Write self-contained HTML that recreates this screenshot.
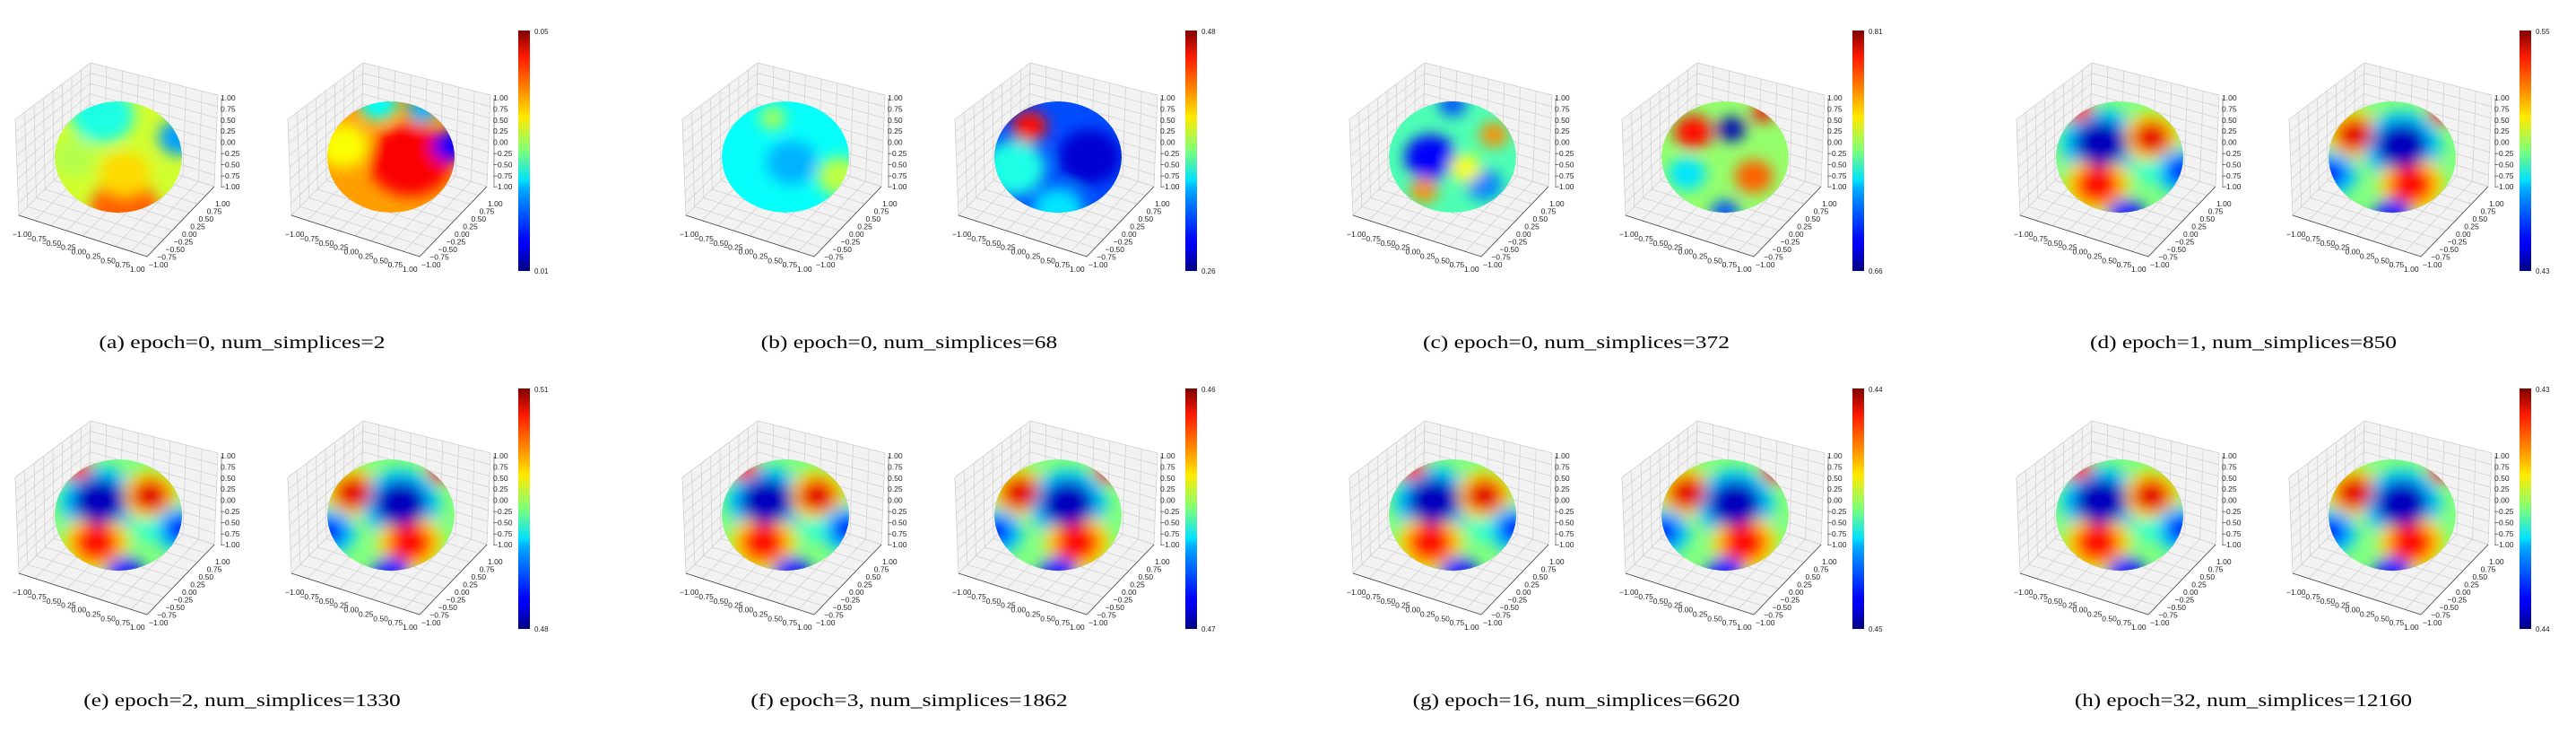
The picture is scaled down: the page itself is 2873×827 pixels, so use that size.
<!DOCTYPE html>
<html><head><meta charset="utf-8">
<style>
html,body{margin:0;padding:0;background:#fff;}
svg{display:block;}
</style></head>
<body>
<svg id="fig" width="2873" height="827" viewBox="0 0 2873 827" xmlns="http://www.w3.org/2000/svg">
<defs>
<filter id="blur" x="-50%" y="-50%" width="200%" height="200%"><feGaussianBlur stdDeviation="8"/></filter>
<linearGradient id="jet" x1="0" y1="1" x2="0" y2="0">
<stop offset="0" stop-color="#00007f"/><stop offset="0.11" stop-color="#0000ff"/>
<stop offset="0.125" stop-color="#0000ff"/><stop offset="0.34" stop-color="#00a8ff"/>
<stop offset="0.375" stop-color="#00e0ff"/><stop offset="0.5" stop-color="#7dff7a"/>
<stop offset="0.64" stop-color="#ffea00"/><stop offset="0.75" stop-color="#ff8c00"/>
<stop offset="0.89" stop-color="#ff1a00"/><stop offset="1" stop-color="#7f0000"/>
</linearGradient>
</defs>
</svg>
<script>
const captions = ["(a) epoch=0, num_simplices=2","(b) epoch=0, num_simplices=68","(c) epoch=0, num_simplices=372","(d) epoch=1, num_simplices=850","(e) epoch=2, num_simplices=1330","(f) epoch=3, num_simplices=1862","(g) epoch=16, num_simplices=6620","(h) epoch=32, num_simplices=12160"];
const cbarMax = ["0.05","0.48","0.81","0.55","0.51","0.46","0.44","0.43"];
const cbarMin = ["0.01","0.26","0.66","0.43","0.48","0.47","0.45","0.44"];
const zTicks = ["1.00","0.75","0.50","0.25","0.00","\u22120.25","\u22120.50","\u22120.75","\u22121.00"];
const xTicks = ["\u22121.00","\u22120.75","\u22120.50","\u22120.25","0.00","0.25","0.50","0.75","1.00"];
// surface field samples per sphere: [u, v, radius, normalised value]
const baseVals = [[0.58,0.72],[0.38,0.2],[0.45,0.52],[0.5,0.5],[0.5,0.5],[0.5,0.5],[0.5,0.5],[0.5,0.5]];
const convergedA = [
 [-0.3,-0.25,0.62,0.32],[0.5,-0.35,0.45,0.66],[-0.35,0.5,0.52,0.66],[0.95,0.25,0.4,0.32],
 [-0.3,-0.25,0.42,0.06],[0.5,-0.35,0.3,0.9],[-0.35,0.5,0.35,0.86],[0.98,0.25,0.25,0.15],
 [-0.65,-0.85,0.22,0.82],[0.1,1.05,0.3,0.15],[0.45,0.25,0.2,0.42]];
const convergedB = [
 [-0.6,-0.4,0.45,0.66],[0.15,-0.2,0.62,0.32],[0.3,0.5,0.52,0.66],[-0.95,0.3,0.4,0.32],
 [-0.6,-0.4,0.3,0.9],[0.15,-0.2,0.42,0.06],[0.8,-0.8,0.22,0.88],[0.3,0.5,0.35,0.86],
 [-0.98,0.3,0.25,0.15],[0,1.05,0.3,0.15]];
const fieldA = [
 [[-0.25,-0.75,0.5,0.4],[0.95,-0.35,0.32,0.28],[0.1,0.95,0.55,0.78],[0.1,0.3,0.4,0.66],[-0.7,0,0.35,0.55]],
 [[0.85,0.35,0.35,0.56],[0.1,0.1,0.4,0.3],[-0.2,-0.7,0.2,0.55]],
 [[-0.35,0,0.4,0.12],[0.65,-0.4,0.22,0.74],[-0.45,0.6,0.22,0.74],[0.5,0.5,0.28,0.25],[0,-0.95,0.22,0.2],[0.2,0.2,0.25,0.62]],
 convergedA,convergedA,convergedA,convergedA,convergedA];
const fieldB = [
 [[0.3,0.05,0.65,0.88],[0.95,-0.2,0.3,0.12],[-0.75,-0.2,0.4,0.62],[-0.2,-0.95,0.3,0.38],[0.5,-0.85,0.25,0.3]],
 [[-0.7,0.2,0.5,0.4],[-0.45,-0.55,0.28,0.86],[0.5,0,0.5,0.08],[0,0.95,0.4,0.35]],
 [[-0.5,-0.45,0.3,0.86],[0.1,-0.5,0.22,0.05],[0.6,-0.8,0.17,0.88],[0.45,0.35,0.3,0.78],[-0.6,0.3,0.3,0.35],[0,1,0.22,0.2]],
 convergedB,convergedB,convergedB,convergedB,convergedB];

function jet(t){
  t=Math.max(0,Math.min(1,t));
  const r=Math.max(0,Math.min(1,1.5-Math.abs(4*t-3)));
  const g=Math.max(0,Math.min(1,1.5-Math.abs(4*t-2)));
  const b=Math.max(0,Math.min(1,1.5-Math.abs(4*t-1)));
  return `rgb(${Math.round(r*255)},${Math.round(g*255)},${Math.round(b*255)})`;
}
const NS="http://www.w3.org/2000/svg";
const svg=document.getElementById('fig');
function mk(tag,attrs,parent){const e=document.createElementNS(NS,tag);for(const k in attrs)e.setAttribute(k,attrs[k]);(parent||svg).appendChild(e);return e;}
const RX=71, RY=62;
const box={Lt:[-115,-42],Bt:[-31,-105],Rt:[111,-69],Lb:[-111,65],Bb:[-33,-13],Rb:[107,33],Fb:[32,111]};
function lerp(a,b,t){return [a[0]+(b[0]-a[0])*t,a[1]+(b[1]-a[1])*t];}
let clipId=0;
function drawAxes(g,cx,cy){
  const panes=[[box.Lb,box.Lt,box.Bt,box.Bb],[box.Bb,box.Bt,box.Rt,box.Rb],[box.Lb,box.Bb,box.Rb,box.Fb]];
  panes.forEach(q=>{
    const p=mk('polygon',{points:q.map(p=>(cx+p[0])+','+(cy+p[1])).join(' '),fill:'#f2f2f2',stroke:'#e0e0e0','stroke-width':0.8},g);
    
    
    for(let i=0;i<=8;i++){
      const t=i/8;
      const a=lerp(q[0],q[1],t),b=lerp(q[3],q[2],t);
      mk('line',{x1:cx+a[0],y1:cy+a[1],x2:cx+b[0],y2:cy+b[1],stroke:'#cfcfcf','stroke-width':0.7},g);
      const c=lerp(q[0],q[3],t),d=lerp(q[1],q[2],t);
      mk('line',{x1:cx+c[0],y1:cy+c[1],x2:cx+d[0],y2:cy+d[1],stroke:'#cfcfcf','stroke-width':0.7},g);
    }
  });
  [[box.Lb,box.Fb],[box.Fb,box.Rb]].forEach(e=>mk('line',{x1:cx+e[0][0],y1:cy+e[0][1],x2:cx+e[1][0],y2:cy+e[1][1],stroke:'#444','stroke-width':0.8},g));
  mk('line',{x1:cx+box.Rt[0]+4,y1:cy-66,x2:cx+box.Rt[0]+4,y2:cy+34,stroke:'#444','stroke-width':0.6},g);
  zTicks.forEach((s,i)=>{
    const t=mk('text',{x:cx+114,y:cy-63+i*12.4,'font-size':8.5},g);
    t.textContent=s;
    
    
  });
  xTicks.forEach((s,i)=>{
    const p=lerp([-118,89],[13,128],i/8);
    const t=mk('text',{x:cx+p[0],y:cy+p[1],'font-size':8.5},g);
    t.textContent=s;
    
    
  });
  xTicks.forEach((s,i)=>{
    const p=lerp([34,123],[108,55],i/8);
    const t=mk('text',{x:cx+p[0],y:cy+p[1],'font-size':8.5},g);
    t.textContent=s;
    
    
  });
}
function drawSphere(g,cx,cy,base,field){
  const id='c'+(clipId++);
  const cp=mk('clipPath',{id:id},svg.querySelector('defs'));
  mk('ellipse',{cx:cx,cy:cy,rx:RX,ry:RY},cp);
  const sg=mk('g',{'clip-path':`url(#${id})`},g);
  
  
  mk('ellipse',{cx:cx,cy:cy,rx:RX,ry:RY,fill:jet(base)},sg);
  const bg=mk('g',{filter:'url(#blur)'},sg);
  field.forEach(f=>{
    const e=mk('ellipse',{cx:cx+f[0]*RX,cy:cy+f[1]*RY,rx:f[2]*RX,ry:f[2]*RY,fill:jet(f[3])},bg);
    
    
  });
}
const PW=744, RH=399;
captions.forEach((cap,k)=>{
  const ox=(k%4)*PW, oy=Math.floor(k/4)*RH;
  const g=mk('g',{'font-family':'Liberation Sans, sans-serif',fill:'#222'});
  
  
  const c1=[ox+132,oy+175], c2=[ox+436,oy+175];
  drawAxes(g,c1[0],c1[1]); drawAxes(g,c2[0],c2[1]);
  drawSphere(g,c1[0],c1[1],baseVals[k][0],fieldA[k]);
  drawSphere(g,c2[0],c2[1],baseVals[k][1],fieldB[k]);
  const cb=mk('rect',{x:ox+578,y:oy+34,width:13,height:268,fill:'url(#jet)'},g);
  
  
  const t1=mk('text',{x:ox+596,y:oy+38,'font-size':8},g); t1.textContent=cbarMax[k];
  
  
  const t2=mk('text',{x:ox+596,y:oy+305,'font-size':8},g); t2.textContent=cbarMin[k];
  
  
  const ct=mk('text',{x:ox+270,y:oy+388,'font-size':20,'font-family':'Liberation Serif, serif','text-anchor':'middle',fill:'#000',textLength:cap.length*11.4,lengthAdjust:'spacingAndGlyphs'},g);
  ct.textContent=cap;
  
  
});
</script>
</body></html>
